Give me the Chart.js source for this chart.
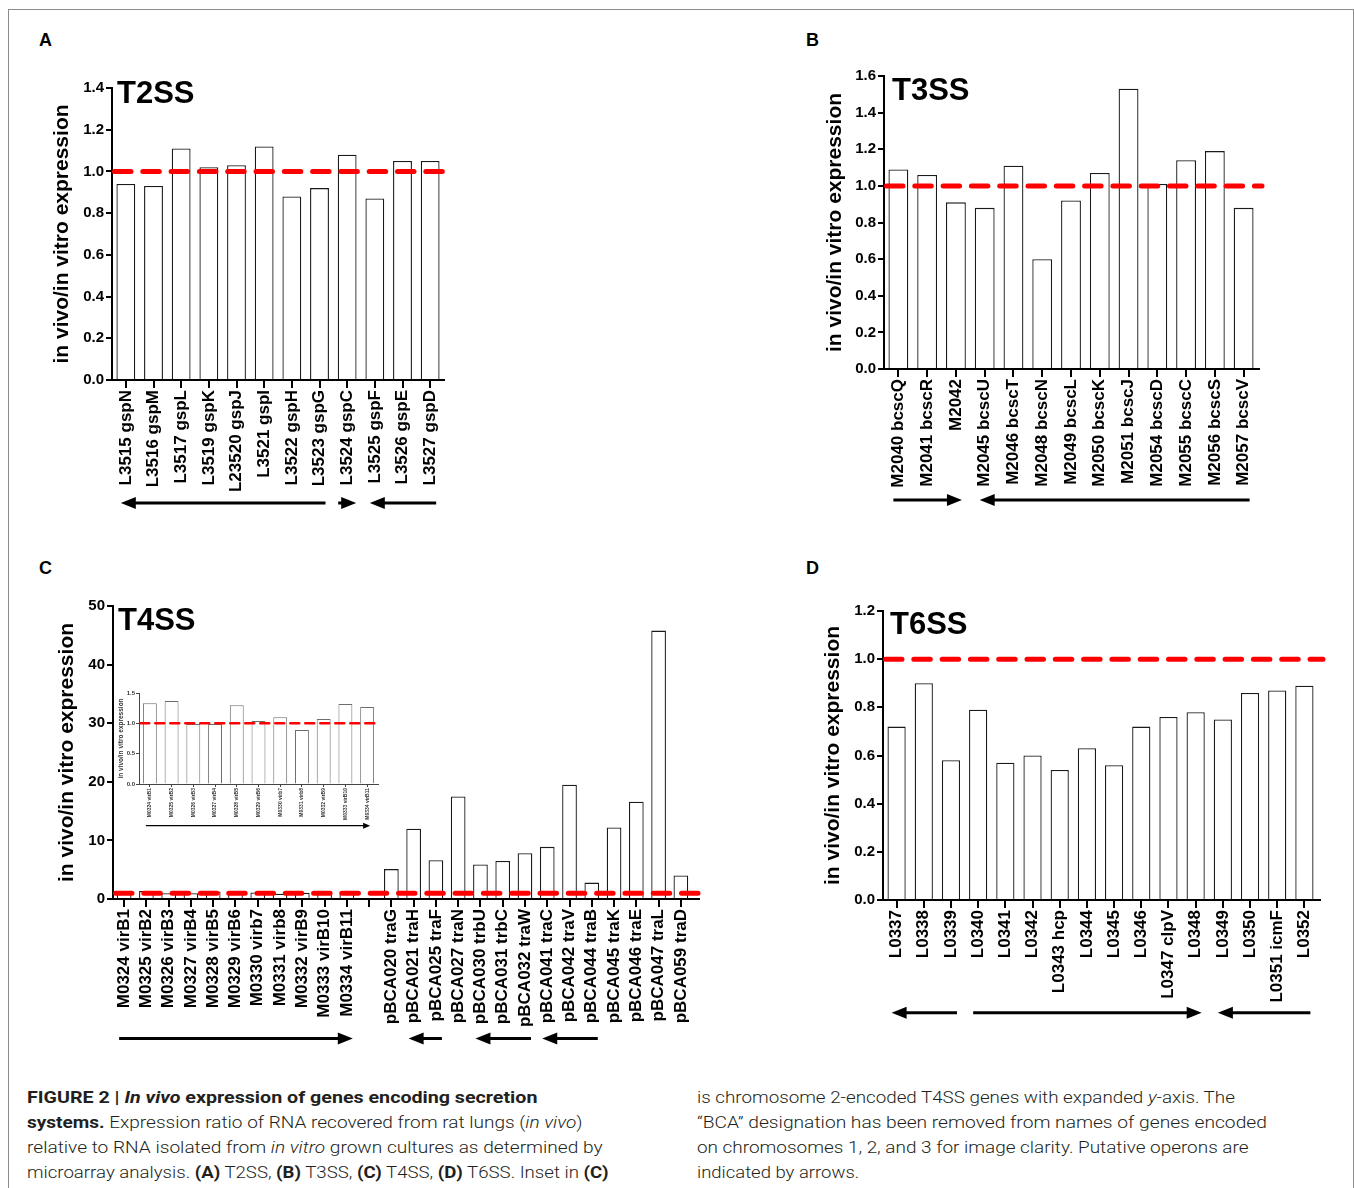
<!DOCTYPE html>
<html><head><meta charset="utf-8">
<script src="https://cdn.jsdelivr.net/npm/chart.js@4.4.1/dist/chart.umd.min.js"></script>
<style>
html,body{margin:0;padding:0;background:#fff;}
body{width:1354px;height:1188px;position:relative;overflow:hidden;font-family:Arial,"Liberation Sans",sans-serif;}
#frame{position:absolute;left:8px;top:9px;width:1344px;height:1200px;border:1px solid #8c8c8c;}
canvas{position:absolute;}
.letter{position:absolute;font:bold 18px Arial,"Liberation Sans",sans-serif;color:#000;line-height:18px;}
.cap{position:absolute;white-space:nowrap;font-family:Roboto,"Liberation Sans",sans-serif;font-weight:300;font-size:17px;line-height:20px;color:#231f20;transform-origin:0 50%;}
.cap b{font-weight:700;}
</style></head>
<body>
<div id="frame"></div>
<div class="letter" style="left:39px;top:31px">A</div>
<div class="letter" style="left:806px;top:31px">B</div>
<div class="letter" style="left:39px;top:559px">C</div>
<div class="letter" style="left:806px;top:559px">D</div>

<canvas id="cA" width="420" height="450" style="left:40px;top:70px"></canvas>
<canvas id="cB" width="470" height="460" style="left:810px;top:60px"></canvas>
<canvas id="cC" width="680" height="465" style="left:40px;top:590px"></canvas>
<canvas id="cI" width="270" height="150" style="left:110px;top:684px"></canvas>
<canvas id="cD" width="530" height="435" style="left:810px;top:595px"></canvas>

<div class="cap" data-w="511" style="left:27px;top:1087px"><b>FIGURE 2 | <i>In vivo</i> expression of genes encoding secretion</b></div>
<div class="cap" data-w="556" style="left:27px;top:1112px"><b>systems.</b> Expression ratio of RNA recovered from rat lungs (<i>in vivo</i>)</div>
<div class="cap" data-w="575" style="left:27px;top:1137px">relative to RNA isolated from <i>in vitro</i> grown cultures as determined by</div>
<div class="cap" data-w="582" style="left:27px;top:1162px">microarray analysis. <b>(A)</b> T2SS, <b>(B)</b> T3SS, <b>(C)</b> T4SS, <b>(D)</b> T6SS. Inset in <b>(C)</b></div>
<div class="cap" data-w="538" style="left:697px;top:1087px">is chromosome 2-encoded T4SS genes with expanded <i>y</i>-axis. The</div>
<div class="cap" data-w="570" style="left:697px;top:1112px">“BCA” designation has been removed from names of genes encoded</div>
<div class="cap" data-w="552" style="left:697px;top:1137px">on chromosomes 1, 2, and 3 for image clarity. Putative operons are</div>
<div class="cap" data-w="162" style="left:697px;top:1162px">indicated by arrows.</div>

<script>
// ---------- DATA ----------
const t2ssGenes = ['L3515 gspN','L3516 gspM','L3517 gspL','L3519 gspK','L23520 gspJ','L3521 gspI','L3522 gspH','L3523 gspG','L3524 gspC','L3525 gspF','L3526 gspE','L3527 gspD'];
const t2ssRatio = [0.94,0.93,1.11,1.02,1.03,1.12,0.88,0.92,1.08,0.87,1.05,1.05];
const t2ssTicks = [0,0.2,0.4,0.6,0.8,1.0,1.2,1.4];
const t2ssOperons = [[0,7,-1],[8,8,1],[9,11,-1]];

const t3ssGenes = ['M2040 bcscQ','M2041 bcscR','M2042','M2045 bcscU','M2046 bcscT','M2048 bcscN','M2049 bcscL','M2050 bcscK','M2051 bcscJ','M2054 bcscD','M2055 bcscC','M2056 bcscS','M2057 bcscV'];
const t3ssRatio = [1.09,1.06,0.91,0.88,1.11,0.60,0.92,1.07,1.53,1.01,1.14,1.19,0.88];
const t3ssTicks = [0,0.2,0.4,0.6,0.8,1.0,1.2,1.4,1.6];
const t3ssOperons = [[0,2,1],[3,12,-1]];

const t4ssChr2Genes = ['M0324 virB1','M0325 virB2','M0326 virB3','M0327 virB4','M0328 virB5','M0329 virB6','M0330 virb7','M0331 virb8','M0332 virB9','M0333 virB10','M0334 virB11'];
const t4ssChr2Ratio = [1.33,1.37,0.99,0.99,1.30,1.04,1.10,0.89,1.07,1.32,1.27];
const t4ssPlasmidGenes = ['pBCA020 traG','pBCA021 traH','pBCA025 traF','pBCA027 traN','pBCA030 trbU','pBCA031 trbC','pBCA032 traW','pBCA041 traC','pBCA042 traV','pBCA044 traB','pBCA045 traK','pBCA046 traE','pBCA047 traL','pBCA059 traD'];
const t4ssPlasmidRatio = [5.1,12.0,6.6,17.5,5.9,6.5,7.8,8.9,19.5,2.8,12.2,16.6,45.8,4.0];
const t4ssTicks = [0,10,20,30,40,50];
const t4ssInsetTicks = [0,0.5,1.0,1.5];
const t4ssOperons = [[0,10,1],[13,14,-1],[16,18,-1],[19,21,-1]];
const t4ssInsetOperons = [[0,10,1]];

const t6ssGenes = ['L0337','L0338','L0339','L0340','L0341','L0342','L0343 hcp','L0344','L0345','L0346','L0347 clpV','L0348','L0349','L0350','L0351 icmF','L0352'];
const t6ssRatio = [0.72,0.90,0.58,0.79,0.57,0.60,0.54,0.63,0.56,0.72,0.76,0.78,0.75,0.86,0.87,0.89];
const t6ssTicks = [0,0.2,0.4,0.6,0.8,1.0,1.2];
const t6ssOperons = [[0,2,-1],[3,11,1],[12,15,-1]];

const referenceRatio = 1.0;
const yTitle = 'in vivo/in vitro expression';

// combined T4SS (blank slot separates chromosome 2 and plasmid genes)
const t4ssGenes = t4ssChr2Genes.concat([''], t4ssPlasmidGenes);
const t4ssRatio = t4ssChr2Ratio.concat([null], t4ssPlasmidRatio);

// ---------- PLUGINS ----------
const FONT = 'Arial, "Liberation Sans", sans-serif';
Chart.defaults.font.family = FONT;
Chart.defaults.color = '#000';

const refLinePlugin = {
  id: 'refLine',
  afterDatasetsDraw(chart, args, o) {
    const ctx = chart.ctx, ca = chart.chartArea;
    const y = chart.scales.y.getPixelForValue(o.value);
    ctx.save();
    if (o.axisExtend) {
      ctx.strokeStyle = o.axisColor; ctx.lineWidth = o.axisWidth;
      ctx.beginPath(); ctx.moveTo(ca.right - 1, ca.bottom); ctx.lineTo(ca.right + o.axisExtend, ca.bottom); ctx.stroke();
    }
    ctx.strokeStyle = o.color; ctx.lineWidth = o.width; ctx.lineCap = 'round';
    ctx.setLineDash(o.dash);
    ctx.beginPath(); ctx.moveTo(ca.left + o.width / 2, y); ctx.lineTo(ca.right + o.extend, y); ctx.stroke();
    ctx.restore();
  }
};
const operonPlugin = {
  id: 'operons',
  afterDraw(chart, args, o) {
    const xs = chart.scales.x, ctx = chart.ctx;
    const y = chart.chartArea.bottom + o.offset;
    ctx.save();
    ctx.fillStyle = o.color; ctx.strokeStyle = o.color; ctx.lineWidth = o.lineWidth;
    for (const [a, b, dir] of o.list) {
      let x0 = xs.getPixelForValue(a), x1 = xs.getPixelForValue(b);
      if (a === b) { x0 -= o.single; x1 += o.single; } else { x0 -= o.padStart; x1 += o.padEnd; }
      const tip = dir < 0 ? x0 : x1;
      const base = dir < 0 ? x0 + o.headLen : x1 - o.headLen;
      ctx.beginPath();
      ctx.moveTo(dir < 0 ? base - 1 : x0, y); ctx.lineTo(dir < 0 ? x1 : base + 1, y); ctx.stroke();
      ctx.beginPath(); ctx.moveTo(tip, y); ctx.lineTo(base, y - o.headHalf); ctx.lineTo(base, y + o.headHalf); ctx.closePath(); ctx.fill();
    }
    ctx.restore();
  }
};
const panelTitlePlugin = {
  id: 'panelTitle',
  afterDraw(chart, args, o) {
    if (!o.text) return;
    const ctx = chart.ctx, ca = chart.chartArea;
    ctx.save();
    ctx.font = 'bold ' + o.size + 'px ' + FONT;
    ctx.fillStyle = '#000'; ctx.textBaseline = 'alphabetic'; ctx.textAlign = 'left';
    ctx.fillText(o.text, ca.left + o.dx, ca.top + o.dy);
    ctx.restore();
  }
};

function makePanel(id, p) {
  const small = !!p.small;
  return new Chart(document.getElementById(id), {
    type: 'bar',
    data: {
      labels: p.genes,
      datasets: [{
        data: p.ratio,
        backgroundColor: '#ffffff',
        borderColor: p.barBorder,
        borderWidth: p.barBorderWidth,
        categoryPercentage: 1.0,
        barPercentage: p.barPct
      }]
    },
    options: {
      responsive: false, animation: false, devicePixelRatio: 1,
      layout: { padding: { top: p.pt, right: p.pr, left: 0, bottom: 0 } },
      plugins: {
        legend: { display: false }, tooltip: { enabled: false },
        refLine: { value: referenceRatio, color: '#ff0000', width: p.dashWidth, dash: p.dash, extend: p.lineExtend, axisExtend: p.axisExtend || 0, axisColor: p.axisColor, axisWidth: p.axisWidth },
        operons: { list: p.operons, offset: p.arrowOffset, lineWidth: p.arrowWidth, headLen: p.headLen, headHalf: p.headHalf, padStart: p.padStart, padEnd: p.padEnd, single: p.single, color: '#000' },
        panelTitle: { text: p.title, size: 31, dx: p.titleDx, dy: p.titleDy }
      },
      scales: {
        x: {
          type: 'category', offset: true,
          grid: { display: true, offset: false, drawOnChartArea: false, drawTicks: true, tickLength: p.xTickLen, color: p.axisColor, lineWidth: p.axisWidth },
          border: { display: true, color: p.axisColor, width: p.axisWidth },
          ticks: { autoSkip: false, minRotation: 90, maxRotation: 90, padding: p.xPad, color: p.labelColor, font: { size: p.xFont, weight: 'bold' } },
          afterFit(s) { s.height = p.hx; }
        },
        y: {
          min: 0, max: p.ticks[p.ticks.length - 1],
          afterBuildTicks(s) { s.ticks = p.ticks.map(v => ({ value: v })); },
          grid: { display: true, drawOnChartArea: false, drawTicks: true, tickLength: p.yTickLen, color: p.axisColor, lineWidth: p.axisWidth },
          border: { display: true, color: p.axisColor, width: p.axisWidth },
          ticks: { padding: p.yPad, color: p.labelColor, font: { size: p.yFont, weight: 'bold' }, callback: v => v.toFixed(p.decimals) },
          title: { display: true, text: yTitle, color: p.labelColor, font: { size: p.yTitleFont, weight: 'bold' }, padding: { top: p.titlePad, bottom: 0 } },
          afterFit(s) { s.width = p.wy; }
        }
      }
    },
    plugins: [refLinePlugin, operonPlugin, panelTitlePlugin]
  });
}

const mainStyle = {
  barBorder: '#1a1a1a', barBorderWidth: 1.3, axisColor: '#000', axisWidth: 2, labelColor: '#000',
  xTickLen: 8, yTickLen: 6, xPad: 2, yPad: 2, xFont: 17, yFont: 15, yTitleFont: 21,
  dashWidth: 5, dash: [16.5, 11.8], arrowWidth: 3, headLen: 15, headHalf: 6, padStart: 5, padEnd: 6, single: 9
};

makePanel('cA', Object.assign({}, mainStyle, {
  genes: t2ssGenes, ratio: t2ssRatio, ticks: t2ssTicks, operons: t2ssOperons, decimals: 1,
  wy: 72, pt: 18, pr: 16, hx: 140, titlePad: 10, barPct: 0.68, arrowOffset: 123, lineExtend: 1,
  title: 'T2SS', titleDx: 5, titleDy: 15
}));
makePanel('cB', Object.assign({}, mainStyle, {
  genes: t3ssGenes, ratio: t3ssRatio, ticks: t3ssTicks, operons: t3ssOperons, decimals: 1,
  wy: 74, pt: 16, pr: 22, hx: 151, titlePad: 12.4, barPct: 0.69, arrowOffset: 131, lineExtend: 4, axisExtend: 2,
  title: 'T3SS', titleDx: 8, titleDy: 24
}));
makePanel('cC', Object.assign({}, mainStyle, {
  genes: t4ssGenes, ratio: t4ssRatio, ticks: t4ssTicks, operons: t4ssOperons, decimals: 0,
  wy: 73, pt: 16, pr: 28, hx: 156, titlePad: 14.4, barPct: 0.66, arrowOffset: 139.5, lineExtend: 12, axisExtend: 8,
  title: 'T4SS', titleDx: 5, titleDy: 24
}));
makePanel('cI', {
  small: true,
  genes: t4ssChr2Genes, ratio: t4ssChr2Ratio, ticks: t4ssInsetTicks, operons: t4ssInsetOperons, decimals: 1,
  barBorder: '#6e6e6e', barBorderWidth: 1, axisColor: '#444', axisWidth: 1, labelColor: '#333',
  xTickLen: 3, yTickLen: 3, xPad: 1, yPad: 1, xFont: 5, yFont: 6, yTitleFont: 6.5,
  dashWidth: 2.5, dash: [9, 6], arrowWidth: 1.3, headLen: 7, headHalf: 3, padStart: 4, padEnd: 3, single: 4,
  wy: 29, pt: 9, pr: 2, hx: 50, titlePad: 7.8, barPct: 0.64, arrowOffset: 41.7, lineExtend: 0,
  title: ''
});
makePanel('cD', Object.assign({}, mainStyle, {
  genes: t6ssGenes, ratio: t6ssRatio, ticks: t6ssTicks, operons: t6ssOperons, decimals: 1,
  wy: 73, pt: 16, pr: 22, hx: 130, titlePad: 10.4, barPct: 0.67, arrowOffset: 112.7, lineExtend: 5, axisExtend: 3,
  title: 'T6SS', titleDx: 7, titleDy: 23
}));

// ---------- caption line fitting ----------
function fitCaption() {
  document.querySelectorAll('.cap').forEach(el => {
    el.style.transform = 'none';
    const w = el.offsetWidth;
    const target = parseFloat(el.dataset.w);
    if (w > 0) el.style.transform = 'scaleX(' + (target / w) + ')';
  });
}
fitCaption();
if (document.fonts && document.fonts.ready) document.fonts.ready.then(fitCaption);
</script>
</body></html>
